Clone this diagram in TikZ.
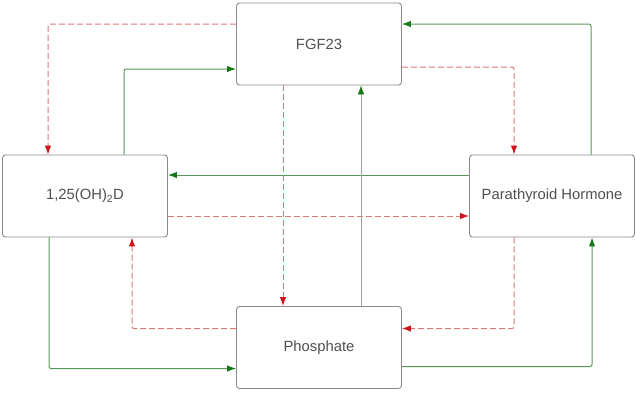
\documentclass[tikz,border=0pt]{standalone}
\usepackage{fontspec}
\setmainfont{Liberation Sans}
\usetikzlibrary{arrows.meta}
\definecolor{boxline}{HTML}{8A8A8A}
\definecolor{labelink}{HTML}{505050}
\definecolor{stimline}{HTML}{5A965A}
\definecolor{stimtip}{HTML}{137A13}
\definecolor{inhline}{HTML}{D97A7A}
\definecolor{inhtip}{HTML}{D0141C}

\begin{document}
\begin{tikzpicture}[x=1pt, y=-1pt,
          organ/.style={draw=boxline, line width=0.9pt, fill=white, rounded corners=3pt,
            inner sep=0pt, minimum width=165pt, minimum height=82pt, text=labelink,
            font=\fontsize{14.8}{17}\selectfont},
          stim/.style={draw=stimline, line width=1pt, rounded corners=2pt,
            -{Latex[length=9pt, width=6.5pt, color=stimtip]}},
          inh/.style={draw=inhline, line width=1pt, rounded corners=2pt, dash pattern=on 6pt off 3pt,
            -{Latex[length=9pt, width=6.5pt, color=inhtip]}}]
        \useasboundingbox (0,0) rectangle (636,392);
        \node[organ] (fgf) at (319,44) {FGF23};
        \node[organ] (vitd) at (85,196) {1,25(OH)\textsubscript{2}D};
        \node[organ] (pth) at (552,196) {Parathyroid Hormone};
        \node[organ] (phos) at (319,347.5) {Phosphate};
        \draw[inh] ([yshift=20pt]fgf.west) -| ([xshift=-37pt]vitd.north);
        \draw[stim] ([xshift=39pt]vitd.north) |- ([yshift=-25pt]fgf.west);
        \draw[inh] ([yshift=-23pt]fgf.east) -| ([xshift=-38pt]pth.north);
        \draw[stim] ([xshift=39pt]pth.north) |- ([yshift=20pt]fgf.east);
        \draw[stim] ([yshift=21pt]pth.west) -- ([yshift=21pt]vitd.east);
        \draw[inh] ([yshift=-20pt]vitd.east) -- ([yshift=-20pt]pth.west);
        \draw[inh] ([xshift=-36pt]fgf.south) -- ([xshift=-36pt]phos.north);
        \draw[stim, draw=boxline!80, line width=0.7pt] ([xshift=42pt]phos.north) -- ([xshift=42pt]fgf.south);
        \draw[inh] ([xshift=-38pt]pth.south) |- ([yshift=19pt]phos.east);
        \draw[stim] ([yshift=-19pt]phos.east) -| ([xshift=40pt]pth.south);
        \draw[inh] ([yshift=19pt]phos.west) -| ([xshift=47pt]vitd.south);
        \draw[stim] ([xshift=-36pt]vitd.south) |- ([yshift=-21pt]phos.west);
      \end{tikzpicture}
\end{document}
